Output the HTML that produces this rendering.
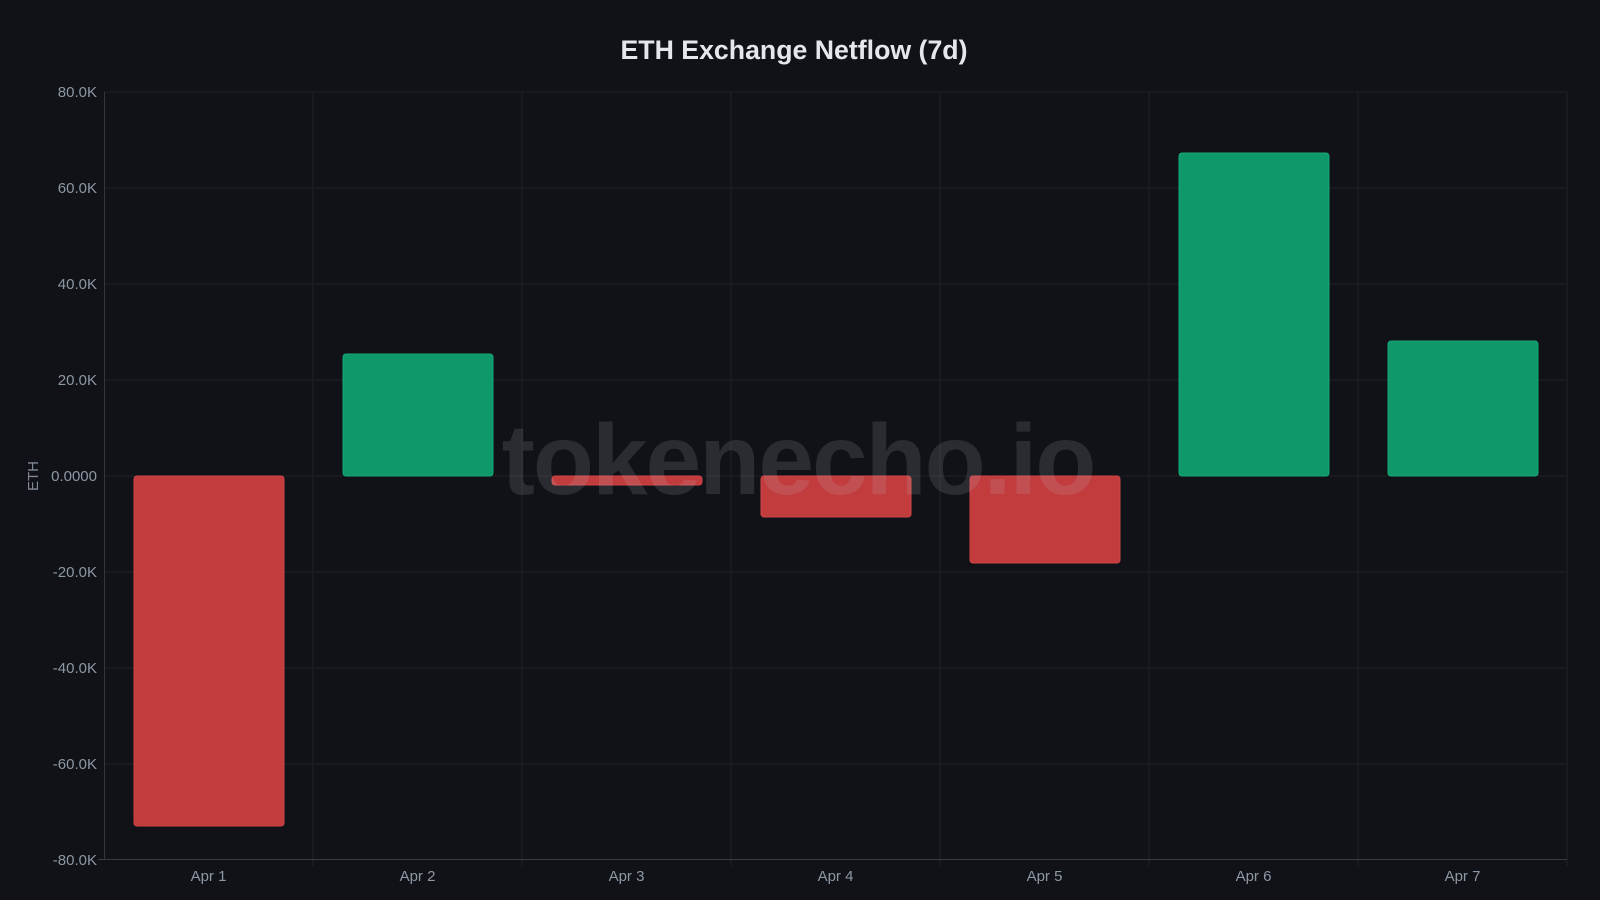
<!DOCTYPE html>
<html><head><meta charset="utf-8"><style>
html,body{margin:0;padding:0;background:#111217;}
svg{display:block;font-family:"Liberation Sans",Arial,sans-serif;}
</style></head><body>
<svg width="1600" height="900" viewBox="0 0 1600 900" xmlns="http://www.w3.org/2000/svg">
<rect width="1600" height="900" fill="#111217"/>
<text x="794" y="59" text-anchor="middle" font-size="26.7" font-weight="bold" fill="#e4e7ec">ETH Exchange Netflow (7d)</text>
<g stroke="#1f2126" stroke-width="1">
<line x1="104" y1="92" x2="1567" y2="92"/>
<line x1="104" y1="188" x2="1567" y2="188"/>
<line x1="104" y1="284" x2="1567" y2="284"/>
<line x1="104" y1="380" x2="1567" y2="380"/>
<line x1="104" y1="476" x2="1567" y2="476"/>
<line x1="104" y1="572" x2="1567" y2="572"/>
<line x1="104" y1="668" x2="1567" y2="668"/>
<line x1="104" y1="764" x2="1567" y2="764"/>
<line x1="313" y1="92" x2="313" y2="866"/>
<line x1="522" y1="92" x2="522" y2="866"/>
<line x1="731" y1="92" x2="731" y2="866"/>
<line x1="940" y1="92" x2="940" y2="866"/>
<line x1="1149" y1="92" x2="1149" y2="866"/>
<line x1="1358" y1="92" x2="1358" y2="866"/>
<line x1="1567" y1="92" x2="1567" y2="866"/>
</g>
<line x1="104.5" y1="92" x2="104.5" y2="860" stroke="#34363c"/>
<line x1="98" y1="859.5" x2="1567" y2="859.5" stroke="#3a3c42"/>
<g font-size="15" fill="#8d98a5" text-anchor="end">
<text x="97" y="97">80.0K</text>
<text x="97" y="193">60.0K</text>
<text x="97" y="289">40.0K</text>
<text x="97" y="385">20.0K</text>
<text x="97" y="481">0.0000</text>
<text x="97" y="577">-20.0K</text>
<text x="97" y="673">-40.0K</text>
<text x="97" y="769">-60.0K</text>
<text x="97" y="865">-80.0K</text>
</g>
<text transform="translate(38,476) rotate(-90)" text-anchor="middle" font-size="15" fill="#7f8a96">ETH</text>
<g font-size="15" fill="#8d98a5" text-anchor="middle">
<text x="208.5" y="881">Apr 1</text>
<text x="417.5" y="881">Apr 2</text>
<text x="626.5" y="881">Apr 3</text>
<text x="835.5" y="881">Apr 4</text>
<text x="1044.5" y="881">Apr 5</text>
<text x="1253.5" y="881">Apr 6</text>
<text x="1462.5" y="881">Apr 7</text>
</g>
<g stroke-width="1">
<rect x="134" y="476" width="150" height="350" rx="3" fill="#c23b3d" stroke="#d04547"/>
<rect x="343" y="354" width="150" height="122" rx="3" fill="#0f996b" stroke="#16a876"/>
<rect x="552" y="476" width="150" height="9" rx="3" fill="#c23b3d" stroke="#d04547"/>
<rect x="761" y="476" width="150" height="41" rx="3" fill="#c23b3d" stroke="#d04547"/>
<rect x="970" y="476" width="150" height="87" rx="3" fill="#c23b3d" stroke="#d04547"/>
<rect x="1179" y="153" width="150" height="323" rx="3" fill="#0f996b" stroke="#16a876"/>
<rect x="1388" y="341" width="150" height="135" rx="3" fill="#0f996b" stroke="#16a876"/>
</g>
<text x="798" y="494" text-anchor="middle" font-size="100" font-weight="bold" letter-spacing="-2" fill="#c8cad4" fill-opacity="0.14">tokenecho.io</text>
</svg>
</body></html>
